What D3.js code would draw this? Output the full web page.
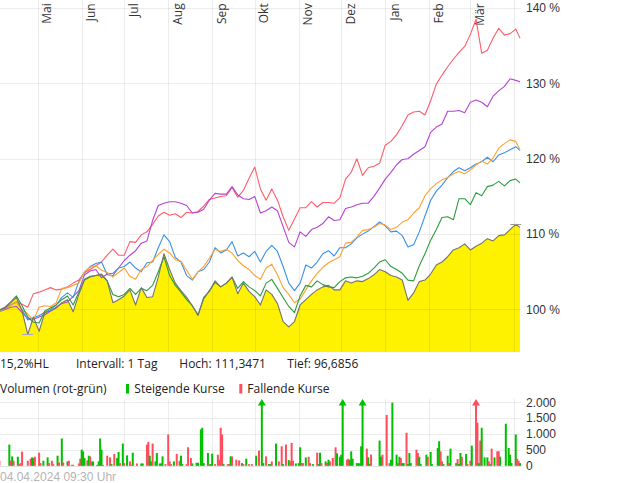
<!DOCTYPE html>
<html><head><meta charset="utf-8">
<script src="https://cdn.jsdelivr.net/npm/d3@7"></script>
<style>body{margin:0;background:#fff}svg{display:block}</style>
</head><body>
<svg id="c" width="620" height="483"></svg>
<script>
// ---------- data ----------
const startDate = "2023-04-04";
const endDate = "2024-04-04";
const stepDays = 4;
const monthLabels = ["Mai","Jun","Jul","Aug","Sep","Okt","Nov","Dez","Jan","Feb","Mär",""];
const priceTicks = [100,110,120,130,140];
const volumeTicks = [0,500,1000,1500,2000];
const infoTexts = ["15,2%HL","Intervall: 1 Tag","Hoch: 111,3471","Tief: 96,6856"];
const highValue = 111.3471, lowValue = 96.6856;
const stampText = "04.04.2024 09:30 Uhr";

const stock = [99.9,100.2,100.9,101.6,99.8,96.7,99.0,97.1,99.6,99.8,
100.2,100.9,101.3,99.7,102.0,103.9,104.3,104.5,104.7,103.8,
100.9,101.3,101.8,102.6,100.6,102.9,101.6,101.7,104.3,107.4,
105.3,103.5,102.5,101.6,100.5,99.2,101.6,102.4,103.8,103.0,
103.5,104.3,102.1,103.5,102.4,101.7,100.6,102.6,102.0,100.8,
98.4,97.7,98.4,100.6,101.3,102.0,102.6,103.0,103.2,102.6,
102.6,103.8,103.5,103.8,103.7,104.1,104.6,105.3,105.0,104.5,
104.3,103.9,101.2,102.2,103.7,103.9,104.7,105.9,106.3,107.0,
107.9,108.2,108.7,107.9,108.4,108.8,109.4,109.1,109.8,109.9,
110.6,111.3,110.9];
const compGreen = [99.9,100.3,101.0,101.8,100.5,99.0,98.3,98.2,99.8,100.2,
100.6,101.3,101.8,100.6,102.3,104.0,104.4,104.5,104.6,103.8,
102.0,101.7,102.0,102.8,102.0,102.8,102.5,103.2,105.0,107.0,
104.5,103.2,102.3,101.3,100.5,99.3,101.4,102.5,103.6,103.0,
103.5,104.3,102.8,103.7,103.0,102.5,101.8,103.5,104.0,102.8,
101.6,100.4,99.6,101.8,103.2,103.0,103.8,103.3,103.0,102.9,
103.7,104.2,104.3,104.2,104.4,104.8,105.5,106.3,106.6,105.7,
105.3,104.8,103.9,103.8,105.8,107.4,109.2,110.6,112.2,112.3,
111.9,114.7,114.7,113.9,115.5,115.1,116.3,116.5,117.0,116.4,
117.1,117.3,116.8];
const compBlue = [99.7,100.2,100.6,101.0,100.0,98.6,98.9,99.2,99.6,100.0,
100.6,101.6,102.2,101.6,103.7,104.9,105.7,106.1,106.3,104.6,
104.5,105.5,105.7,106.3,105.5,105.0,106.2,106.3,108.2,109.9,
109.0,106.9,106.3,104.5,103.9,105.0,105.3,106.3,108.2,107.5,
107.9,109.0,107.1,107.5,107.0,107.7,106.3,107.7,108.5,107.7,
105.7,103.5,102.5,103.5,105.9,105.5,106.3,107.4,107.8,107.1,
108.2,108.2,108.7,109.5,110.0,110.4,111.0,111.6,111.1,110.3,
110.4,109.8,108.3,108.6,110.3,112.4,114.5,115.7,116.5,117.5,
118.3,118.8,118.4,118.8,119.3,119.6,120.2,119.6,120.5,120.8,
121.2,121.6,121.1];
const compOrange = [99.7,100.2,100.6,101.0,100.0,99.4,98.6,100.3,100.5,100.4,
100.9,102.8,102.9,103.2,103.5,105.0,105.6,105.8,105.2,104.9,
104.3,104.9,105.5,104.4,104.0,105.3,105.7,106.5,107.3,108.0,
107.5,106.6,106.4,105.2,104.0,105.0,105.7,106.8,108.0,107.7,
108.0,107.5,106.5,105.8,105.3,104.5,104.0,105.5,106.0,104.6,
102.9,102.0,100.9,101.4,102.6,103.8,104.8,105.6,106.2,106.6,
107.0,108.8,108.9,109.6,110.5,110.6,110.9,111.4,111.2,110.6,
110.9,111.6,111.9,112.8,113.5,115.1,116.0,116.7,117.2,117.5,
118.0,118.3,118.0,118.5,119.2,119.7,119.3,120.1,121.4,122.0,
122.5,122.3,121.2];
const compPurple = [99.7,100.0,100.3,100.4,99.6,98.8,98.7,99.0,99.3,99.8,
100.3,100.8,101.0,101.7,102.5,104.6,105.1,105.3,104.2,104.7,
104.8,105.5,106.5,107.2,107.8,108.8,109.1,111.8,113.8,114.1,
114.3,114.3,114.1,113.8,112.8,112.9,113.3,114.5,115.4,115.3,
115.3,116.3,115.2,114.7,114.6,115.0,112.8,113.1,113.6,113.1,
111.0,108.9,108.3,110.3,109.7,110.6,110.9,111.4,112.3,111.8,
111.9,113.4,113.6,113.9,114.1,114.1,115.0,116.1,117.3,118.2,
119.2,119.9,120.0,120.6,121.1,121.6,123.5,124.2,124.6,126.3,
126.3,126.4,126.1,127.5,127.8,127.5,126.9,128.3,129.0,129.6,
130.6,130.4,130.2];
const compRed = [99.9,100.3,100.6,101.0,100.7,100.3,102.1,102.3,102.6,102.9,
102.6,102.7,103.0,103.5,103.9,104.9,105.3,105.8,106.3,107.2,
108.0,107.2,107.2,109.0,108.9,109.9,110.3,111.3,112.4,112.9,
112.5,112.7,112.2,112.9,112.8,113.0,113.7,114.6,114.8,115.0,
115.1,116.2,114.9,115.8,117.4,118.9,116.0,114.5,116.0,114.5,
112.3,110.5,112.0,113.5,113.5,114.3,113.6,114.2,114.2,114.1,
114.8,117.3,118.2,120.0,117.8,118.8,119.0,119.4,121.8,122.3,
123.2,124.4,125.8,126.2,126.3,125.8,127.7,129.9,131.1,132.2,
133.2,134.1,134.9,136.5,138.5,134.0,134.4,136.0,137.3,136.4,
136.6,137.2,136.0];

// volume: [day offset from startDate, volume, rising(1)/falling(0)]
const volumeBars = [[0,159,0],[7,668,1],[8,159,0],[9,297,1],[10,159,0],[13,286,1],[14,53,0],[15,85,0],[16,445,0],[20,159,0],
[22,223,0],[23,265,1],[24,244,1],[25,286,0],[28,413,0],[29,85,0],[31,159,1],[34,265,1],[35,85,0],[37,159,0],
[38,53,0],[41,318,1],[42,106,0],[44,859,1],[45,106,0],[48,138,1],[49,159,0],[51,32,0],[52,32,0],[56,74,0],
[57,223,0],[58,509,1],[59,456,1],[60,244,1],[62,170,0],[63,318,1],[64,297,0],[65,138,0],[66,138,1],[69,32,1],
[70,138,1],[71,859,1],[72,509,1],[73,32,0],[76,318,0],[78,265,0],[79,53,1],[81,371,0],[83,244,1],[84,435,1],
[85,85,0],[87,700,1],[88,85,0],[90,329,1],[92,138,0],[93,32,0],[94,413,1],[97,74,0],[100,74,1],[101,74,1],
[104,668,0],[105,753,0],[106,318,1],[107,138,1],[108,700,0],[110,138,1],[111,403,1],[113,74,1],[114,74,1],[115,297,1],
[117,53,0],[119,986,0],[120,138,0],[121,53,0],[123,138,1],[125,371,0],[127,159,0],[128,318,1],[129,53,1],[132,53,0],
[133,583,0],[135,244,0],[136,74,1],[139,95,1],[140,95,1],[142,1145,1],[143,1198,1],[144,85,1],[147,403,1],[148,53,0],
[149,53,1],[150,382,1],[152,53,0],[154,350,0],[155,191,0],[156,1198,0],[157,986,0],[158,53,1],[161,53,0],[162,53,0],
[163,297,1],[164,297,0],[167,191,0],[169,170,0],[171,85,1],[172,53,0],[174,223,1],[176,53,0],[178,53,0],[181,318,1],
[183,477,0],[185,2500,1],[186,85,1],[188,297,0],[190,53,1],[191,53,1],[192,138,0],[195,700,1],[197,138,0],[199,615,0],
[200,53,1],[202,668,0],[204,180,1],[205,138,0],[206,721,0],[207,159,0],[209,74,1],[211,85,1],[212,583,1],[213,85,0],
[214,85,0],[216,265,1],[218,286,0],[219,85,0],[221,53,1],[224,413,0],[225,53,1],[226,413,1],[227,85,0],[230,138,1],
[231,85,0],[232,191,1],[233,138,0],[235,244,0],[237,583,0],[238,392,1],[240,286,1],[241,350,1],[242,2500,1],[245,191,0],
[246,223,0],[247,180,1],[248,456,1],[249,223,1],[252,85,1],[253,85,1],[254,74,1],[255,615,1],[256,2500,1],[259,541,0],
[260,265,1],[261,64,1],[262,350,0],[268,795,1],[269,286,1],[270,350,0],[273,1600,0],[275,85,0],[276,191,1],[277,1990,1],
[280,350,1],[281,85,0],[282,286,1],[283,244,0],[284,85,1],[285,85,1],[287,1039,0],[288,53,1],[289,403,1],[290,85,1],
[294,509,0],[295,403,0],[296,286,1],[297,53,1],[301,350,1],[302,286,0],[304,435,1],[305,53,1],[309,562,1],[310,774,1],
[311,456,0],[312,138,0],[313,53,1],[316,318,1],[317,85,0],[318,541,1],[322,85,1],[323,212,0],[324,53,1],[325,403,1],
[326,286,0],[329,371,1],[330,53,0],[332,159,0],[333,636,1],[336,2500,0],[337,1357,0],[338,85,1],[339,795,0],[340,1198,1],
[342,265,1],[344,265,1],[345,138,0],[346,53,1],[347,541,0],[349,265,1],[351,456,0],[352,456,0],[353,286,1],[357,1325,1],
[359,562,1],[360,350,1],[361,85,1],[364,986,1],[365,223,0],[366,159,0],[367,85,1]];

// ---------- setup ----------
const svg = d3.select("#c");
const parse = d3.utcParse("%Y-%m-%d");
const t0 = parse(startDate), t1 = parse(endDate);
const x = d3.scaleUtc().domain([t0, t1]).range([-0.6, 518.6]);
const y = d3.scaleLinear().domain([94.36, 141.06]).range([352, 0]);
const yv = d3.scaleLinear().domain([0, 2000]).range([465.8, 402.3]);
const dateAt = i => i < stock.length - 1 ? d3.utcDay.offset(t0, i * stepDays) : d3.utcDay.offset(t1, 1);
const plotRight = 521;
const de = d3.formatLocale({decimal: ",", thousands: ".", grouping: [3], currency: ["", "€"]});
const fmtVol = de.format(",d");
const crisp = v => Math.round(v) + 0.5;
const gridColor = "rgba(0,0,0,0.075)";
const sansUI = "'Open Sans', 'Noto Sans', sans-serif";
const sansAx = "'Liberation Sans', Arial, sans-serif";

// ---------- price panel ----------
const area = d3.area().x((d, i) => x(dateAt(i))).y0(352).y1(d => y(d));
svg.append("path").datum(stock).attr("d", area).attr("fill", "#fff200");

const months = d3.utcMonth.range(parse("2023-05-01"), parse("2024-04-02"));
const grid = svg.append("g");
grid.selectAll("line.h").data(priceTicks).join("line")
  .attr("x1", 0).attr("x2", plotRight).attr("y1", d => crisp(y(d))).attr("y2", d => crisp(y(d)))
  .attr("stroke", gridColor);
grid.selectAll("line.v").data(months).join("line")
  .attr("x1", d => crisp(x(d))).attr("x2", d => crisp(x(d))).attr("y1", 0).attr("y2", 352)
  .attr("stroke", gridColor);

svg.append("g").selectAll("text").data(months).join("text")
  .attr("transform", d => `translate(${x(d) + 13.5},3.3) rotate(-90)`)
  .attr("text-anchor", "end").attr("font-family", sansUI).attr("font-size", 12).attr("fill", "#333")
  .text((d, i) => monthLabels[i]);

svg.append("g").selectAll("text").data(priceTicks).join("text")
  .attr("x", 526).attr("y", d => y(d)).attr("dy", "0.36em")
  .attr("font-family", sansAx).attr("font-size", 12).attr("fill", "#333")
  .text(d => d + " %");

const line = d3.line().x((d, i) => x(dateAt(i))).y(d => y(d));
const seriesList = [
  [compRed, "#ff5c6c"], [compPurple, "#b444d4"], [compBlue, "#3b8fe9"],
  [compOrange, "#ffa030"], [compGreen, "#2b9c3a"], [stock, "#737373"]
];
seriesList.forEach(([vals, col]) => {
  svg.append("path").datum(vals).attr("d", line)
    .attr("fill", "none").attr("stroke", col).attr("stroke-width", 1.1).attr("stroke-linejoin", "round");
});

// high / low markers
const iHigh = d3.maxIndex(stock), iLow = d3.minIndex(stock);
svg.append("line").attr("x1", x(dateAt(iLow)) - 5.5).attr("x2", x(dateAt(iLow)) + 5.5)
  .attr("y1", crisp(y(lowValue))).attr("y2", crisp(y(lowValue))).attr("stroke", "#a3a3d6");
svg.append("line").attr("x1", x(dateAt(iHigh)) - 5.5).attr("x2", x(dateAt(iHigh)) + 5.5)
  .attr("y1", crisp(y(highValue))).attr("y2", crisp(y(highValue))).attr("stroke", "#999");

// ---------- info texts ----------
const infoX = [0, 76, 179.3, 287.3];
svg.append("g").selectAll("text").data(infoTexts).join("text")
  .attr("x", (d, i) => infoX[i]).attr("y", 367.5)
  .attr("font-family", sansUI).attr("font-size", 12).attr("fill", "#222").text(d => d);

const leg = svg.append("g").attr("font-family", sansUI).attr("font-size", 12).attr("fill", "#222");
leg.append("text").attr("x", 0).attr("y", 392.5).text("Volumen (rot-grün)");
leg.append("rect").attr("x", 126).attr("y", 384).attr("width", 3).attr("height", 9.5).attr("fill", "#00c000");
leg.append("text").attr("x", 134.3).attr("y", 392.5).text("Steigende Kurse");
leg.append("rect").attr("x", 239.3).attr("y", 384).attr("width", 3).attr("height", 9.5).attr("fill", "#ff4d5e");
leg.append("text").attr("x", 247.3).attr("y", 392.5).text("Fallende Kurse");

// ---------- volume panel ----------
const vg = svg.append("g");
vg.selectAll("line.h").data(volumeTicks).join("line")
  .attr("x1", 0).attr("x2", plotRight).attr("y1", d => crisp(yv(d))).attr("y2", d => crisp(yv(d)))
  .attr("stroke", d => d === 0 ? "rgba(0,0,0,0.11)" : gridColor);
vg.selectAll("line.v").data(months).join("line")
  .attr("x1", d => crisp(x(d))).attr("x2", d => crisp(x(d))).attr("y1", 399).attr("y2", 466)
  .attr("stroke", gridColor);

svg.append("g").selectAll("text").data(volumeTicks).join("text")
  .attr("x", 526).attr("y", d => yv(d)).attr("dy", "0.36em")
  .attr("font-family", sansAx).attr("font-size", 12).attr("fill", "#333")
  .text(d => fmtVol(d));

const volColor = d => d[2] ? "#00c000" : "#ff4d5e";
const bx = d => x(d3.utcDay.offset(t0, d[0]));
svg.append("g").selectAll("rect").data(volumeBars).join("rect")
  .attr("x", d => bx(d) - 1).attr("width", 2)
  .attr("y", d => yv(Math.min(d[1], 2000))).attr("height", d => yv(0) - yv(Math.min(d[1], 2000)))
  .attr("fill", volColor);
svg.append("g").selectAll("path").data(volumeBars.filter(d => d[1] > 2000)).join("path")
  .attr("d", d => { const cx = bx(d); return `M${cx - 4},405.5L${cx},399L${cx + 4},405.5Z`; })
  .attr("fill", volColor);

// ---------- timestamp ----------
svg.append("text").attr("x", 0).attr("y", 480.5)
  .attr("font-family", sansAx).attr("font-size", 12).attr("fill", "#b4b4b4").text(stampText);
</script>
</body></html>
